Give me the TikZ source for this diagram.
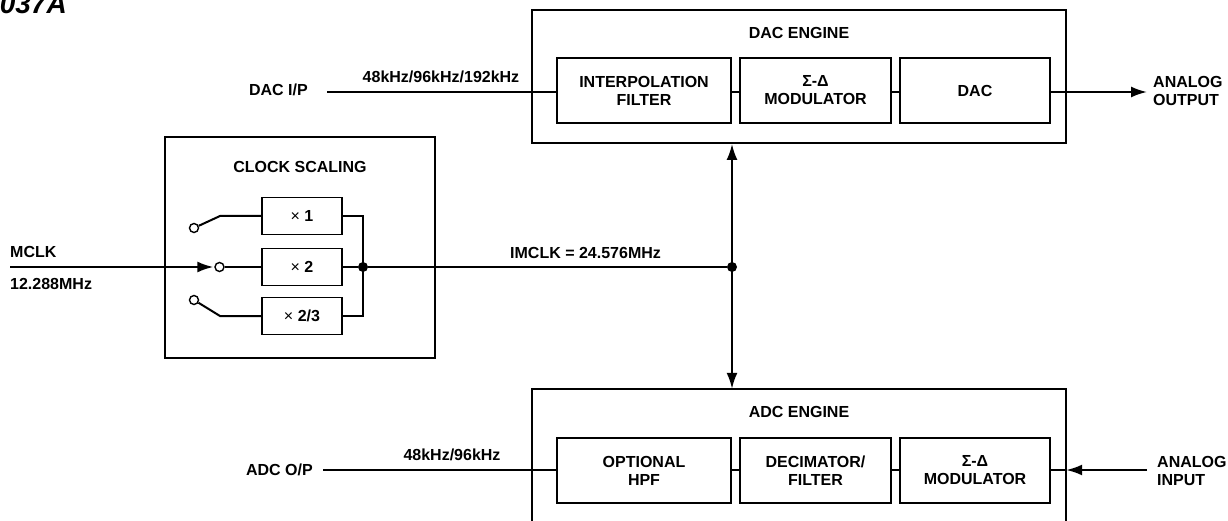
\documentclass[tikz,border=0pt]{standalone}
\usepackage{fontspec}
\setmainfont{Liberation Sans}
\usetikzlibrary{arrows.meta}
\begin{document}
\begin{tikzpicture}[x=1pt,y=-1pt,
  txt/.style={font=\bfseries\fontsize{16}{18}\selectfont, inner sep=0pt, align=center},
  ltxt/.style={font=\bfseries\fontsize{16}{18}\selectfont, inner sep=0pt, align=left},
  blk/.style={draw, line width=1.9pt, minimum width=#1, minimum height=65pt, inner sep=0pt,
    font=\bfseries\fontsize{16}{18}\selectfont, align=center},
  mul/.style={draw, line width=1.9pt, minimum width=80pt, minimum height=37pt, inner sep=0pt,
    font=\bfseries\fontsize{16}{18}\selectfont},
  outer/.style={line width=2pt},
  sig/.style={line width=2pt},
  arr/.style={sig, -{Latex[length=16pt,width=11pt]}},
  darr/.style={sig, {Latex[length=16pt,width=11pt]}-{Latex[length=16pt,width=11pt]}},
  sw/.style={circle, draw, fill=white, line width=1.4pt, minimum size=9pt, inner sep=0pt},
  dot/.style={circle, fill=black, minimum size=10pt, inner sep=0pt}]
\useasboundingbox (0,0) rectangle (1228,521);

% figure tag (cut off at top, as in the reference)
\node[anchor=base east, font=\bfseries\itshape\fontsize{28}{28}\selectfont, inner sep=0pt] (tag) at (67,14) {037A};

% DAC engine
\node[draw, line width=2pt, minimum width=534pt, minimum height=133pt, inner sep=0pt] (dacbox) at (799,76.5) {};
\node[txt] (dactitle) at (799,33) {DAC ENGINE};
\node[blk=174pt] (interp) at (644,90.5) {INTERPOLATION\\FILTER};
\node[blk=151pt] (dmod) at (815.5,90.5) {Σ-Δ\\MODULATOR};
\node[blk=150pt] (dac) at (975,90.5) {DAC};

% ADC engine (bottom edge outside the picture)
\node[minimum width=534pt, minimum height=134pt, inner sep=0pt] (adcbox) at (799,456) {};
\draw[outer] (adcbox.south west) -- (adcbox.north west) -- (adcbox.north east) -- (adcbox.south east);
\node[txt] (adctitle) at (799,412) {ADC ENGINE};
\node[blk=174pt] (hpf) at (644,470.5) {OPTIONAL\\HPF};
\node[blk=151pt] (deci) at (815.5,470.5) {DECIMATOR/\\FILTER};
\node[blk=150pt] (amod) at (975,470.5) {Σ-Δ\\MODULATOR};

% clock scaling
\node[draw, line width=2pt, minimum width=270pt, minimum height=221pt, inner sep=0pt] (clkbox) at (300,247.5) {};
\node[txt] (clktitle) at (300,167) {CLOCK SCALING};
\node[mul] (x1) at (302,216) {{\mdseries ×} 1};
\node[mul] (x2) at (302,267) {{\mdseries ×} 2};
\node[mul] (x3) at (302,316) {{\mdseries ×} 2/3};
\node[sw] (sw1) at (194,228) {};
\node[sw] (sw2) at (219.5,267) {};
\node[sw] (sw3) at (194,300) {};
\coordinate (k1) at (220,216);
\coordinate (k3) at (220,316);
\node[dot] (j1) at (363,267) {};
\node[dot] (j2) at (732,267) {};

% clock paths
\coordinate (mclkin) at (10,267);
\draw[arr, shorten >=1pt] (mclkin) -- (sw2.west);
\node[ltxt, anchor=west] (mclk) at (10,252) {MCLK};
\node[ltxt, anchor=west] (mclkf) at (10,284) {12.288MHz};
\draw[sig] (sw1) -- (k1) -- (x1.west);
\draw[sig] (sw2) -- (x2.west);
\draw[sig] (sw3) -- (k3) -- (x3.west);
\draw[sig] (x1.east) -- (x1.east -| j1) -- (x3.east -| j1) -- (x3.east);
\draw[sig] (x2.east) -- (j1);
\draw[sig] (j1) -- (j2);
\node[ltxt, anchor=west] (imclk) at (510,253) {IMCLK = 24.576MHz};
\draw[darr] (j2 |- dacbox.south) -- (j2 |- adcbox.north);

% DAC path
\coordinate (dacin) at (327,92);
\node[txt, anchor=east] (dacip) at (308,90) {DAC I/P};
\node[txt] (dacrate) at (441,77) {48kHz/96kHz/192kHz};
\draw[sig] (dacin) -- (dacin -| interp.west);
\draw[sig] (interp.east |- dacin) -- (dmod.west |- dacin);
\draw[sig] (dmod.east |- dacin) -- (dac.west |- dacin);
\coordinate (aout) at (1147,92);
\draw[arr] (dac.east |- dacin) -- (aout);
\node[ltxt, anchor=west] (aoutl) at (1153,91) {ANALOG\\OUTPUT};

% ADC path
\coordinate (adcout) at (323,470);
\node[txt, anchor=east] (adcop) at (313,470) {ADC O/P};
\node[txt] (adcrate) at (452,455) {48kHz/96kHz};
\draw[sig] (adcout) -- (adcout -| hpf.west);
\draw[sig] (hpf.east |- adcout) -- (deci.west |- adcout);
\draw[sig] (deci.east |- adcout) -- (amod.west |- adcout);
\coordinate (ain) at (1147,470);
\draw[arr] (ain) -- (adcbox.east |- ain);
\draw[sig] (adcbox.east |- ain) -- (amod.east |- ain);
\node[ltxt, anchor=west] (ainl) at (1157,471) {ANALOG\\INPUT};
\end{tikzpicture}
\end{document}
